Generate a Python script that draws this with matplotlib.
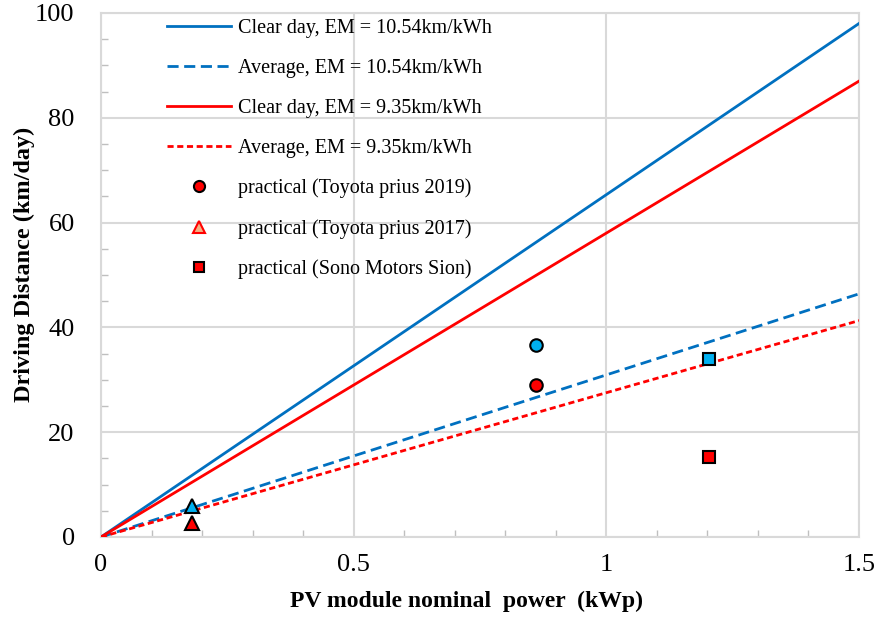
import numpy as np
import matplotlib
matplotlib.use("Agg")
import matplotlib.pyplot as plt
from matplotlib.lines import Line2D
from matplotlib.ticker import MultipleLocator

plt.rcParams["font.family"] = ["Liberation Serif", "DejaVu Serif"]

# dados
pv_kwp = [0, 1.5]
clear_1054 = [0, 98.0]
avg_1054 = [0, 46.4]
clear_935 = [0, 87.0]
avg_935 = [0, 41.3]

prius19_x = [0.86, 0.86]
prius19_y = [36.6, 29.1]
prius17_x = [0.18, 0.18]
prius17_y = [5.9, 2.7]
sion_x = [1.203, 1.203]
sion_y = [34.0, 15.3]

AZUL = "#0070C0"
AZUL_CLARO = "#00B0F0"
VERMELHO = "#FF0000"
CINZA = "#D9D9D9"

TRACO_AZUL = (4, 2)
TRACO_VERM = (2.2, 1.3)

fig = plt.figure(figsize=(8.77, 6.19), dpi=100)
ax = fig.add_axes([0.1152, 0.1325, 0.8643, 0.8465])

ax.plot(pv_kwp, clear_1054, color=AZUL, lw=2, zorder=3)
ax.plot(pv_kwp, avg_1054, color=AZUL, lw=2, dashes=TRACO_AZUL, zorder=3)
ax.plot(pv_kwp, clear_935, color=VERMELHO, lw=2, zorder=3)
ax.plot(pv_kwp, avg_935, color=VERMELHO, lw=2, dashes=TRACO_VERM, zorder=3)

cores = [AZUL_CLARO, VERMELHO]
for i in range(2):
    ax.plot(prius19_x[i], prius19_y[i], "o", ms=9, mfc=cores[i], mec="black", mew=1.5, zorder=5)
    ax.plot(prius17_x[i], prius17_y[i], "^", ms=10, mfc=cores[i], mec="black", mew=1.5, zorder=5)
    ax.plot(sion_x[i], sion_y[i], "s", ms=8.5, mfc=cores[i], mec="black", mew=1.5, zorder=5)

handles = [
    Line2D([], [], color=AZUL, lw=2),
    Line2D([], [], color=AZUL, lw=2, dashes=TRACO_AZUL),
    Line2D([], [], color=VERMELHO, lw=2),
    Line2D([], [], color=VERMELHO, lw=2, dashes=TRACO_VERM),
    Line2D([], [], ls="none", marker="o", ms=8, mfc=VERMELHO, mec="black", mew=1.5),
    Line2D([], [], ls="none", marker="^", ms=8, mfc="#F4B183", mec=VERMELHO, mew=1.5),
    Line2D([], [], ls="none", marker="s", ms=7.5, mfc=VERMELHO, mec="black", mew=1.5),
]
labels = [
    "Clear day, EM = 10.54km/kWh",
    "Average, EM = 10.54km/kWh",
    "Clear day, EM = 9.35km/kWh",
    "Average, EM = 9.35km/kWh",
    "practical (Toyota prius 2019)",
    "practical (Toyota prius 2017)",
    "practical (Sono Motors Sion)",
]
leg = ax.legend(handles, labels, loc="upper left", bbox_to_anchor=(0.087, 0.988),
                frameon=False, fontsize=14.5, handlelength=3.2, labelspacing=1.03,
                handletextpad=0.35, borderpad=0, borderaxespad=0)

ax.set_xlim(0, 1.5)
ax.set_ylim(0, 100)
ax.xaxis.set_major_locator(MultipleLocator(0.5))
ax.xaxis.set_minor_locator(MultipleLocator(0.1))
ax.yaxis.set_major_locator(MultipleLocator(20))
ax.yaxis.set_minor_locator(MultipleLocator(5))
ax.xaxis.set_major_formatter(plt.FuncFormatter(lambda v, p: f"{v:g}"))
ax.tick_params(which="both", direction="in", color="#BFBFBF", labelsize=19)
ax.tick_params(which="major", length=0)
ax.tick_params(axis="x", which="major", pad=12)
ax.tick_params(axis="y", which="major", pad=19)
ax.tick_params(which="minor", length=5, width=1)
ax.grid(True, which="major", color=CINZA, lw=1.5, zorder=0)
for s in ax.spines.values():
    s.set_color(CINZA)
    s.set_linewidth(1.5)

ax.set_xlabel("PV module nominal  power  (kWp)", fontsize=17, fontweight="bold")
ax.set_ylabel("Driving Distance (km/day)", fontsize=17.5, fontweight="bold")
ax.xaxis.set_label_coords(0.482, -0.103)
ax.yaxis.set_label_coords(-0.087, 0.52)

plt.savefig("out.png", dpi=100)
plt.close()
